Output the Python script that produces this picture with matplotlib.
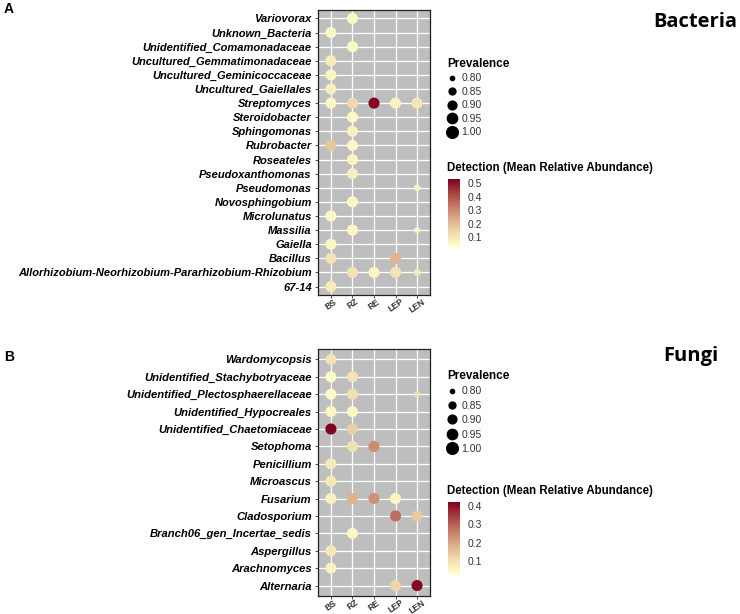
import matplotlib
matplotlib.use('Agg')
import matplotlib.pyplot as plt
from matplotlib.colors import LinearSegmentedColormap, Normalize
from matplotlib.lines import Line2D
import matplotlib.cm as cm

samples = ['BS', 'RZ', 'RE', 'LEP', 'LEN']

# bacteria: rows listed bottom -> top
bac_taxa = ['67-14', 'Allorhizobium-Neorhizobium-Pararhizobium-Rhizobium', 'Bacillus',
            'Gaiella', 'Massilia', 'Microlunatus', 'Novosphingobium', 'Pseudomonas',
            'Pseudoxanthomonas', 'Roseateles', 'Rubrobacter', 'Sphingomonas',
            'Steroidobacter', 'Streptomyces', 'Uncultured_Gaiellales',
            'Uncultured_Geminicoccaceae', 'Uncultured_Gemmatimonadaceae',
            'Unidentified_Comamonadaceae', 'Unknown_Bacteria', 'Variovorax']
bac_taxon = ['67-14', 'Allorhizobium-Neorhizobium-Pararhizobium-Rhizobium',
             'Allorhizobium-Neorhizobium-Pararhizobium-Rhizobium',
             'Allorhizobium-Neorhizobium-Pararhizobium-Rhizobium',
             'Allorhizobium-Neorhizobium-Pararhizobium-Rhizobium',
             'Bacillus', 'Bacillus', 'Gaiella', 'Massilia', 'Massilia', 'Microlunatus',
             'Novosphingobium', 'Pseudomonas', 'Pseudoxanthomonas', 'Roseateles',
             'Rubrobacter', 'Rubrobacter', 'Sphingomonas', 'Steroidobacter',
             'Streptomyces', 'Streptomyces', 'Streptomyces', 'Streptomyces', 'Streptomyces',
             'Uncultured_Gaiellales', 'Uncultured_Geminicoccaceae',
             'Uncultured_Gemmatimonadaceae', 'Unidentified_Comamonadaceae',
             'Unknown_Bacteria', 'Variovorax']
bac_sample = ['BS', 'RZ', 'RE', 'LEP', 'LEN',
              'BS', 'LEP', 'BS', 'RZ', 'LEN', 'BS',
              'RZ', 'LEN', 'RZ', 'RZ',
              'BS', 'RZ', 'RZ', 'RZ',
              'BS', 'RZ', 'RE', 'LEP', 'LEN',
              'BS', 'BS', 'BS', 'RZ', 'BS', 'RZ']
bac_detect = [0.09, 0.11, 0.06, 0.11, 0.10,
              0.11, 0.22, 0.05, 0.05, 0.07, 0.05,
              0.05, 0.06, 0.08, 0.06,
              0.18, 0.05, 0.07, 0.05,
              0.05, 0.14, 0.52, 0.07, 0.10,
              0.08, 0.06, 0.08, 0.05, 0.05, 0.05]
bac_prev = [1.0, 1.0, 1.0, 1.0, 0.86,
            1.0, 1.0, 1.0, 1.0, 0.84, 1.0,
            1.0, 0.85, 1.0, 1.0,
            1.0, 1.0, 1.0, 1.0,
            1.0, 1.0, 1.0, 1.0, 1.0,
            1.0, 1.0, 1.0, 1.0, 1.0, 1.0]

# fungi: rows listed bottom -> top
fun_taxa = ['Alternaria', 'Arachnomyces', 'Aspergillus', 'Branch06_gen_Incertae_sedis',
            'Cladosporium', 'Fusarium', 'Microascus', 'Penicillium', 'Setophoma',
            'Unidentified_Chaetomiaceae', 'Unidentified_Hypocreales',
            'Unidentified_Plectosphaerellaceae', 'Unidentified_Stachybotryaceae',
            'Wardomycopsis']
fun_taxon = ['Alternaria', 'Alternaria', 'Arachnomyces', 'Aspergillus',
             'Branch06_gen_Incertae_sedis', 'Cladosporium', 'Cladosporium',
             'Fusarium', 'Fusarium', 'Fusarium', 'Fusarium', 'Microascus', 'Penicillium',
             'Setophoma', 'Setophoma', 'Unidentified_Chaetomiaceae',
             'Unidentified_Chaetomiaceae', 'Unidentified_Hypocreales',
             'Unidentified_Hypocreales', 'Unidentified_Plectosphaerellaceae',
             'Unidentified_Plectosphaerellaceae', 'Unidentified_Plectosphaerellaceae',
             'Unidentified_Stachybotryaceae', 'Unidentified_Stachybotryaceae',
             'Wardomycopsis']
fun_sample = ['LEP', 'LEN', 'BS', 'BS',
              'RZ', 'LEP', 'LEN',
              'BS', 'RZ', 'RE', 'LEP', 'BS', 'BS',
              'RZ', 'RE', 'BS',
              'RZ', 'BS',
              'RZ', 'BS',
              'RZ', 'LEN',
              'BS', 'RZ',
              'BS']
fun_detect = [0.12, 0.41, 0.06, 0.08,
              0.05, 0.28, 0.14,
              0.06, 0.18, 0.23, 0.05, 0.08, 0.08,
              0.10, 0.24, 0.42,
              0.13, 0.05,
              0.05, 0.04,
              0.10, 0.10,
              0.04, 0.09,
              0.09]
fun_prev = [1.0, 1.0, 1.0, 1.0,
            1.0, 1.0, 1.0,
            1.0, 1.0, 1.0, 1.0, 1.0, 1.0,
            1.0, 1.0, 1.0,
            1.0, 1.0,
            1.0, 1.0,
            1.0, 0.84,
            1.0, 1.0,
            1.0]

prev_levels = [0.80, 0.85, 0.90, 0.95, 1.00]

cmap = LinearSegmentedColormap.from_list(
    'det', ['#FFFFCC', '#F1DCAE', '#DDB08C', '#C47A66', '#A5413F', '#800020'])


def dot_size(p):
    # marker area in pt^2
    d_lo, d_hi = 2.9, 8.0
    a_lo, a_hi = d_lo ** 2, d_hi ** 2
    return a_lo + (p - 0.80) / 0.20 * (a_hi - a_lo)


def panel(rect, taxa, taxon, sample, detect, prev, vmin, vmax, ylab_size):
    ax = fig.add_axes(rect)
    ax.set_facecolor('#BEBEBE')
    xs = [samples.index(s) for s in sample]
    ys = [taxa.index(t) for t in taxon]
    norm = Normalize(vmin=vmin, vmax=vmax)
    ax.scatter(xs, ys, s=[dot_size(p) for p in prev], c=detect, cmap=cmap, norm=norm,
               linewidths=0, zorder=3)
    ax.set_xticks(range(len(samples)))
    ax.set_xticklabels(samples, rotation=35, fontsize=6.2, color='#333333',
                       fontweight='bold', ha='center')
    ax.set_yticks(range(len(taxa)))
    ax.set_yticklabels(taxa, fontsize=ylab_size, fontweight='bold', fontstyle='italic')
    ax.set_xlim(-0.6, len(samples) - 0.4)
    ax.set_ylim(-0.6, len(taxa) - 0.4)
    ax.grid(True, color='white', linewidth=0.9)
    ax.set_axisbelow(True)
    ax.tick_params(axis='y', length=2.5, width=0.6, pad=2, color='#333333')
    ax.tick_params(axis='x', length=2, width=0.6, pad=-0.5, color='#333333')
    for sp in ax.spines.values():
        sp.set_linewidth(0.9)
        sp.set_color('#222222')
    return norm


def size_legend(x, y, gap):
    handles = [Line2D([], [], linestyle='none', marker='o', color='black',
                      markersize=dot_size(p) ** 0.5 * 1.05) for p in prev_levels]
    leg = fig.legend(handles, ['%.2f' % p for p in prev_levels], title='Prevalence',
                     loc='upper left', bbox_to_anchor=(x, y), frameon=False,
                     fontsize=7.5, title_fontproperties={'weight': 'bold', 'size': 8.5},
                     labelspacing=gap, handletextpad=0.4, handlelength=1.0,
                     borderpad=0, borderaxespad=0)
    leg._legend_box.align = 'left'
    for t in leg.get_texts():
        t.set_color('#333333')


def color_bar(rect, norm, ticks, title_y):
    cax = fig.add_axes(rect)
    cb = fig.colorbar(cm.ScalarMappable(norm=norm, cmap=cmap), cax=cax, ticks=ticks)
    cb.outline.set_visible(False)
    cb.ax.tick_params(length=2.5, color='white', labelsize=7.5, labelcolor='#333333', pad=3)
    cb.ax.set_yticklabels(['%.1f' % t for t in ticks])
    fig.text(rect[0] - 1 / W, title_y, 'Detection (Mean Relative Abundance)', fontsize=8.3,
             fontweight='bold', va='center', ha='left')


plt.rcParams['font.family'] = ['Liberation Sans', 'DejaVu Sans']
W, H = 740, 614
fig = plt.figure(figsize=(W / 100, H / 100), dpi=100)

# panel A
norm_a = panel([318 / W, 1 - 295 / H, 112 / W, 285 / H], bac_taxa, bac_taxon, bac_sample,
               bac_detect, bac_prev, 0.03, 0.53, 8.0)
size_legend(447 / W, 1 - 58 / H, 0.33)
color_bar([448 / W, 1 - 247 / H, 12 / W, 68 / H], norm_a, [0.1, 0.2, 0.3, 0.4, 0.5],
          1 - 168 / H)

# panel B
norm_b = panel([318 / W, 1 - 596 / H, 112 / W, 247 / H], fun_taxa, fun_taxon, fun_sample,
               fun_detect, fun_prev, 0.03, 0.42, 8.1)
size_legend(447 / W, 1 - 370 / H, 0.42)
color_bar([448 / W, 1 - 574 / H, 12 / W, 72 / H], norm_b, [0.1, 0.2, 0.3, 0.4],
          1 - 491 / H)

fig.text(4 / W, 1 - 9 / H, 'A', fontsize=10, fontweight='bold', va='center')
fig.text(4 / W, 1 - 357 / H, 'B', fontsize=10, fontweight='bold', va='center')
fig.text(737 / W, 1 - 22 / H, 'Bacteria', fontsize=14.5, fontweight='bold', ha='right',
         va='center', family=['Open Sans', 'DejaVu Sans'])
fig.text(718 / W, 1 - 356 / H, 'Fungi', fontsize=14.5, fontweight='bold', ha='right',
         va='center', family=['Open Sans', 'DejaVu Sans'])

fig.savefig('out.png', dpi=100)
